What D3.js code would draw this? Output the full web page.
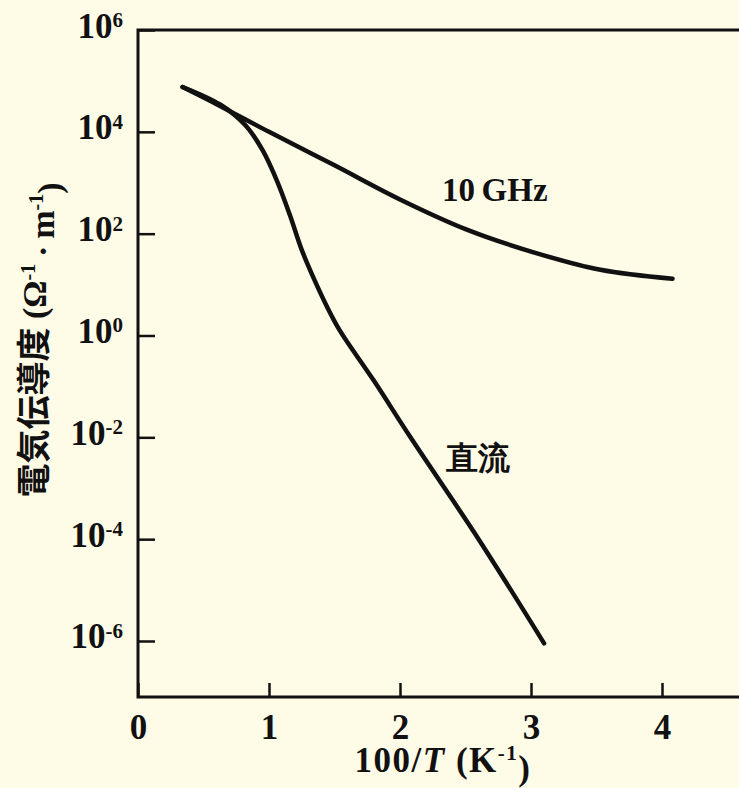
<!DOCTYPE html>
<html>
<head>
<meta charset="utf-8">
<script src="https://cdn.jsdelivr.net/npm/d3@7"></script>
<style>
  body { margin: 0; background: #fefbe7; }
  svg { display: block; }
  text { font-family: "Liberation Serif", "Times New Roman", serif; font-weight: bold; fill: #111; }
</style>
</head>
<body>
<svg width="739" height="788"></svg>
<script>
// curve data (x = 100/T, y = conductivity)
var ghzX = [0.34, 0.6, 1.0, 1.5, 2.0, 2.51, 3.02, 3.53, 4.08];
var ghzY = [7.6e4, 3.5e4, 1.0e4, 2.2e3, 4.7e2, 1.2e2, 43, 19.5, 13];

var dcX = [0.34, 0.63, 0.82, 0.95, 1.06, 1.16, 1.25, 1.34, 1.44, 1.54, 1.8, 2.08, 2.60, 3.10];
var dcY = [7.6e4, 3.4e4, 1.35e4, 4.4e3, 1.1e3, 230, 48, 13.5, 3.8, 1.26, 0.13, 1e-2, 1e-4, 9e-7];

var xTicks = [0, 1, 2, 3, 4];
var yTicks = [1e-6, 1e-4, 1e-2, 1, 1e2, 1e4, 1e6];

var svg = d3.select("svg"),
    plotLeft = 138, plotTop = 30, plotBottom = 697;

var x = d3.scaleLinear().domain([0, 4.7]).range([plotLeft, plotLeft + 4.7 * 131]);
var y = d3.scaleLog().domain([Math.pow(10, -7.1), 1e6]).range([plotBottom, plotTop]);

// frame (right side runs off the page like the scan)
svg.append("rect")
   .attr("x", x(0))
   .attr("y", y(1e6))
   .attr("width", x(4.7) - x(0))
   .attr("height", plotBottom - y(1e6))
   .attr("fill", "none")
   .attr("stroke", "#111")
   .attr("stroke-width", 3);

// x axis, ticks pointing in
var gx = svg.append("g")
   .attr("transform", "translate(0," + plotBottom + ")")
   .call(d3.axisBottom(x).tickValues(xTicks).tickSizeInner(-14).tickSizeOuter(0).tickPadding(30).tickFormat(d3.format("d")));
gx.select(".domain").remove();
gx.selectAll(".tick line").attr("stroke", "#111").attr("stroke-width", 2.5);
gx.selectAll(".tick text").attr("font-size", 35).attr("dy", "0.35em");

// y axis, ticks pointing in, labels as powers of ten
var gy = svg.append("g")
   .attr("transform", "translate(" + plotLeft + ",0)")
   .call(d3.axisLeft(y).tickValues(yTicks).tickSizeInner(-17).tickSizeOuter(0).tickPadding(15));
gy.select(".domain").remove();
gy.selectAll(".tick line").attr("stroke", "#111").attr("stroke-width", 2.5);
gy.selectAll(".tick text").each(function(d) {
  var t = d3.select(this).text("").attr("font-size", 35).attr("dy", "0.2em");
  var e = Math.round(Math.log10(d));
  t.append("tspan").text("10");
  t.append("tspan").attr("dy", "-0.5em").attr("font-size", 21)
   .text(e < 0 ? "-" + (-e) : e);
});

// curves
var line = d3.line()
   .x(function(d) { return x(d[0]); })
   .y(function(d) { return y(d[1]); })
   .curve(d3.curveCatmullRom.alpha(0.5));

svg.append("path")
   .datum(d3.zip(ghzX, ghzY))
   .attr("d", line)
   .attr("fill", "none")
   .attr("stroke", "#111")
   .attr("stroke-width", 4.5)
   .attr("stroke-linecap", "round");

svg.append("path")
   .datum(d3.zip(dcX, dcY))
   .attr("d", line)
   .attr("fill", "none")
   .attr("stroke", "#111")
   .attr("stroke-width", 4.5)
   .attr("stroke-linecap", "round");

// curve labels
svg.append("text")
   .attr("x", 442).attr("y", 201)
   .attr("font-size", 33)
   .text("10\u2009GHz");

svg.append("text")
   .attr("x", 446).attr("y", 469)
   .attr("font-family", "Noto Sans CJK JP")
   .attr("font-size", 32)
   .text("直流");

// axis titles
var xt = svg.append("text")
   .attr("x", 443).attr("y", 772)
   .attr("text-anchor", "middle")
   .attr("font-size", 35)
   .attr("letter-spacing", 1.5);
xt.append("tspan").text("100/");
xt.append("tspan").attr("font-style", "italic").text("T");
xt.append("tspan").text(" (K");
xt.append("tspan").attr("dy", "-0.55em").attr("font-size", 21).text("-1");
xt.append("tspan").attr("dy", "0.55em").text(")");

var yt = svg.append("text")
   .attr("transform", "translate(46,340) rotate(-90)")
   .attr("text-anchor", "middle")
   .attr("font-size", 34);
yt.append("tspan").attr("font-family", "Noto Sans CJK JP").text("電気伝導度");
yt.append("tspan").text(" (\u03a9");
yt.append("tspan").attr("dy", "-0.55em").attr("font-size", 20).text("-1");
yt.append("tspan").attr("dy", "0.55em").text("\u2009\u00b7\u2009m");
yt.append("tspan").attr("dy", "-0.55em").attr("font-size", 20).text("-1");
yt.append("tspan").attr("dy", "0.55em").text(")");
</script>
</body>
</html>
